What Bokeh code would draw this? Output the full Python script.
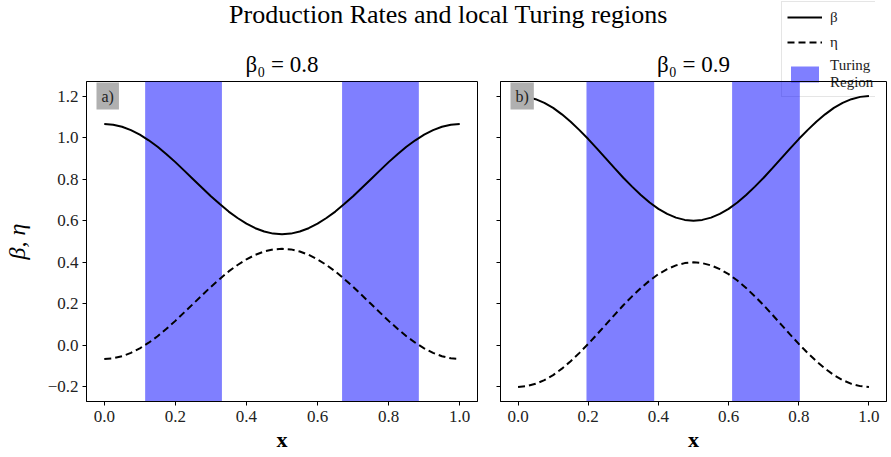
from bokeh.plotting import figure
from bokeh.models import Legend, LegendItem, Label, CustomJSTickFormatter, FixedTicker, Range1d
from bokeh.layouts import column, row
from bokeh.embed import file_html
from bokeh.resources import INLINE

FONT = "Liberation Serif"

# ---------------- data ----------------
x = [0.000, 0.025, 0.050, 0.075, 0.100, 0.125, 0.150, 0.175, 0.200, 0.225,
     0.250, 0.275, 0.300, 0.325, 0.350, 0.375, 0.400, 0.425, 0.450, 0.475,
     0.500, 0.525, 0.550, 0.575, 0.600, 0.625, 0.650, 0.675, 0.700, 0.725,
     0.750, 0.775, 0.800, 0.825, 0.850, 0.875, 0.900, 0.925, 0.950, 0.975, 1.000]

beta_a = [1.065, 1.062, 1.052, 1.036, 1.014, 0.987, 0.956, 0.920, 0.882, 0.841,
          0.800, 0.759, 0.718, 0.680, 0.644, 0.613, 0.586, 0.564, 0.548, 0.538,
          0.535, 0.538, 0.548, 0.564, 0.586, 0.613, 0.644, 0.680, 0.718, 0.759,
          0.800, 0.841, 0.882, 0.920, 0.956, 0.987, 1.014, 1.036, 1.052, 1.062, 1.065]
eta_a = [-0.065, -0.062, -0.052, -0.036, -0.014, 0.013, 0.044, 0.080, 0.118, 0.159,
         0.200, 0.241, 0.282, 0.320, 0.356, 0.387, 0.414, 0.436, 0.452, 0.462,
         0.465, 0.462, 0.452, 0.436, 0.414, 0.387, 0.356, 0.320, 0.282, 0.241,
         0.200, 0.159, 0.118, 0.080, 0.044, 0.013, -0.014, -0.036, -0.052, -0.062, -0.065]
turing_a_start = [0.115, 0.669]
turing_a_end = [0.331, 0.885]

beta_b = [1.200, 1.196, 1.185, 1.167, 1.143, 1.112, 1.076, 1.036, 0.993, 0.947,
          0.900, 0.853, 0.807, 0.764, 0.724, 0.688, 0.657, 0.633, 0.615, 0.604,
          0.600, 0.604, 0.615, 0.633, 0.657, 0.688, 0.724, 0.764, 0.807, 0.853,
          0.900, 0.947, 0.993, 1.036, 1.076, 1.112, 1.143, 1.167, 1.185, 1.196, 1.200]
eta_b = [-0.200, -0.196, -0.185, -0.167, -0.143, -0.112, -0.076, -0.036, 0.007, 0.053,
         0.100, 0.147, 0.193, 0.236, 0.276, 0.312, 0.343, 0.367, 0.385, 0.396,
         0.400, 0.396, 0.385, 0.367, 0.343, 0.312, 0.276, 0.236, 0.193, 0.147,
         0.100, 0.053, 0.007, -0.036, -0.076, -0.112, -0.143, -0.167, -0.185, -0.196, -0.200]
turing_b_start = [0.195, 0.610]
turing_b_end = [0.388, 0.803]

x_ticks = [0.0, 0.2, 0.4, 0.6, 0.8, 1.0]
y_ticks = [-0.2, 0.0, 0.2, 0.4, 0.6, 0.8, 1.0, 1.2]
X_RANGE = (-0.05, 1.05)
Y_RANGE = (-0.27, 1.27)

SUPTITLE = "Production Rates and local Turing regions"
titles = ["\u03b2\u2080 = 0.8", "\u03b2\u2080 = 0.9"]
tags = ["a)", "b)"]
legend_labels = ["\u03b2", "\u03b7", "Turing\nRegion"]

TOP_H = 100  # height of the overlay strip holding suptitle + legend


def make_panel(title, beta, eta, starts, ends, tag, frame_w, left_b, right_b, first):
    p = figure(frame_width=frame_w, frame_height=320,
               min_border_left=left_b, min_border_right=right_b,
               min_border_top=81, min_border_bottom=46,
               x_range=Range1d(*X_RANGE), y_range=Range1d(*Y_RANGE),
               output_backend="svg", toolbar_location=None, title=title)
    p.border_fill_color = None
    p.background_fill_color = None
    p.outline_line_color = "black"
    p.outline_line_width = 1
    p.grid.visible = False

    p.quad(left=starts, right=ends, bottom=Y_RANGE[0], top=Y_RANGE[1],
           fill_color="blue", fill_alpha=0.5, line_color=None)
    p.line(x, beta, line_color="black", line_width=2)
    p.line(x, eta, line_color="black", line_width=2, line_dash="7 4")

    p.title.text_font = FONT
    p.title.text_font_size = "23px"
    p.title.text_font_style = "normal"
    p.title.align = "center"
    p.title.text_color = "black"

    p.xaxis.ticker = FixedTicker(ticks=x_ticks)
    p.yaxis.ticker = FixedTicker(ticks=y_ticks)
    p.xaxis.formatter = CustomJSTickFormatter(code="return tick.toFixed(1).replace('-', '\u2212');")
    if first:
        p.yaxis.formatter = CustomJSTickFormatter(code="return tick.toFixed(1).replace('-', '\u2212');")
        p.yaxis.axis_label = "\u03b2, \u03b7"
        p.yaxis.axis_label_text_font = FONT
        p.yaxis.axis_label_text_font_size = "24px"
        p.yaxis.axis_label_text_font_style = "italic"
        p.yaxis.axis_label_text_color = "black"
        p.yaxis.axis_label_standoff = 15
    else:
        p.yaxis.formatter = CustomJSTickFormatter(code="return '';")

    for ax in (p.xaxis, p.yaxis):
        ax.major_tick_out = 4
        ax.major_tick_in = 0
        ax.minor_tick_out = 0
        ax.minor_tick_in = 0
        ax.major_tick_line_color = "black"
        ax.axis_line_color = "black"
        ax.major_label_text_font = FONT
        ax.major_label_text_font_size = "17px"
        ax.major_label_text_color = "#222222"
    p.yaxis.major_label_standoff = 4 if first else 0
    p.xaxis.major_label_standoff = 5

    p.xaxis.axis_label = "x"
    p.xaxis.axis_label_text_font = FONT
    p.xaxis.axis_label_text_font_size = "22px"
    p.xaxis.axis_label_text_font_style = "bold"
    p.xaxis.axis_label_text_color = "black"
    p.xaxis.axis_label_standoff = 2

    lab = Label(x=X_RANGE[0], y=Y_RANGE[1], x_offset=10, y_offset=-1, text=tag,
                text_align="left", text_baseline="top",
                text_font=FONT, text_font_size="16px", text_color="#222222",
                background_fill_color="#b0b0b0", background_fill_alpha=1.0,
                padding=5)
    p.add_layout(lab)
    return p


p1 = make_panel(titles[0], beta_a, eta_a, turing_a_start, turing_a_end,
                tags[0], 391, 74, 12, True)
p2 = make_panel(titles[1], beta_b, eta_b, turing_b_start, turing_b_end,
                tags[1], 386, 11, 1, False)

# ---------------- overlay strip: suptitle + figure legend ----------------
tf = figure(width=875, height=TOP_H, toolbar_location=None, output_backend="svg",
            min_border=0, x_axis_location=None, y_axis_location=None,
            x_range=Range1d(0, 875), y_range=Range1d(0, TOP_H))
tf.grid.visible = False
tf.outline_line_color = None
tf.background_fill_color = None
tf.border_fill_color = None

tf.add_layout(Label(x=448, y=TOP_H, y_offset=1, text=SUPTITLE, text_align="center",
                    text_baseline="top", text_font=FONT, text_font_size="26px",
                    text_color="black"))

# hidden renderers that only serve as legend glyph sources
lb = tf.line(x, beta_b, line_color="black", line_width=2, visible=False)
le = tf.line(x, eta_b, line_color="black", line_width=2, line_dash="7 4", visible=False)
lq = tf.quad(left=turing_b_start, right=turing_b_end, bottom=Y_RANGE[0], top=Y_RANGE[1],
             fill_color="blue", fill_alpha=0.5, line_color=None, visible=False)

legend = Legend(items=[LegendItem(label=legend_labels[0], renderers=[lb]),
                       LegendItem(label=legend_labels[1], renderers=[le]),
                       LegendItem(label=legend_labels[2], renderers=[lq])],
                location=(781, 3))
legend.label_text_font = FONT
legend.label_text_font_size = "15px"
legend.label_text_color = "#222222"
legend.border_line_color = "#cccccc"
legend.border_line_width = 1
legend.background_fill_color = "white"
legend.background_fill_alpha = 0.85
legend.padding = 5
legend.spacing = 5
legend.margin = 0
legend.glyph_width = 35
legend.glyph_height = 20
legend.label_height = 20
legend.label_standoff = 8
tf.add_layout(legend, "center")

layout = column(tf, row(p1, p2, margin=(-TOP_H, 0, 0, 0)))

with open("out.html", "w") as f:
    f.write(file_html(layout, INLINE))
